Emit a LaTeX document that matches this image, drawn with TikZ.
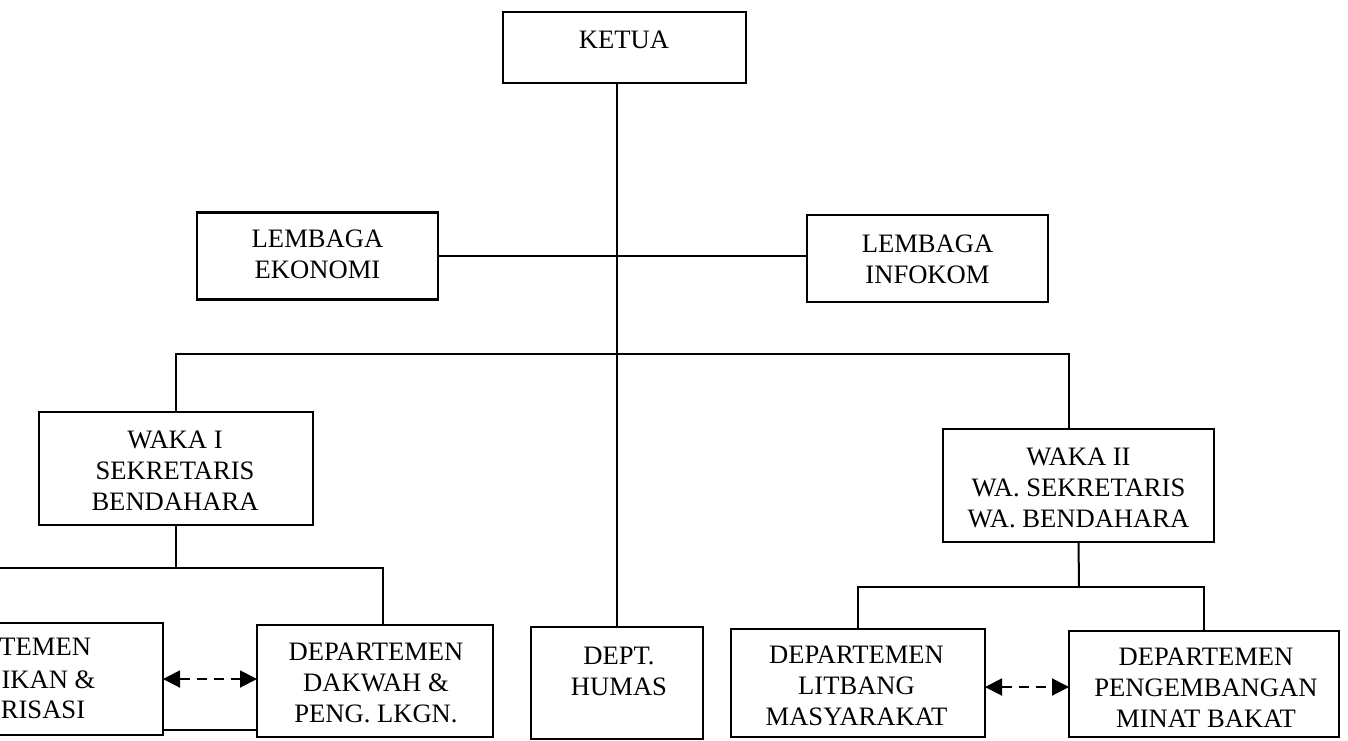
\documentclass[tikz,border=0pt]{standalone}
\usepackage{fontspec}
\setmainfont{Liberation Serif}
\usetikzlibrary{arrows.meta}
\begin{document}
\begin{tikzpicture}[x=0.5pt,y=-0.5pt,
  box/.style={draw, line width=1.1pt, inner sep=0pt, outer sep=0pt},
  lbl/.style={inner sep=0pt, align=center, font=\fontsize{13.3}{15.5}\selectfont},
  frag/.style={inner sep=0pt, anchor=west, font=\fontsize{13.3}{15.5}\selectfont},
  conn/.style={line width=1pt},
  darrow/.style={line width=1pt, dash pattern=on 5pt off 3.5pt,
     {Triangle[length=8.5pt,width=8.5pt]}-{Triangle[length=8.5pt,width=8.5pt]}}]
\useasboundingbox (0,0) rectangle (1348,740);
\clip (0,0) rectangle (1348,740);
% boxes
\node[box, minimum width=121.5pt, minimum height=35.5pt] (ketua) at (624.5,47.5) {};
\node[box, minimum width=120.5pt, minimum height=43.5pt] (ekonomi) at (317.5,256) {};
\node[box, minimum width=120.5pt, minimum height=43.5pt] (infokom) at (927.5,258.5) {};
\node[box, minimum width=137pt, minimum height=56.5pt] (waka1) at (176,468.5) {};
\node[box, minimum width=135.5pt, minimum height=56.5pt] (waka2) at (1078.5,485.5) {};
\node[box, minimum width=183pt, minimum height=56pt] (pend) at (-20,679) {};
\node[box, minimum width=118pt, minimum height=56pt] (dakwah) at (375,681) {};
\node[box, minimum width=86pt, minimum height=56pt] (humas) at (617,683) {};
\node[box, minimum width=127pt, minimum height=54pt] (litbang) at (858,683) {};
\node[box, minimum width=135pt, minimum height=53pt] (pengem) at (1204,684) {};
% texts
\node[lbl] (ketuaT) at (624,40) {KETUA};
\node[lbl] (ekonomiT) at (317.5,254) {LEMBAGA\\EKONOMI};
\node[lbl] (infokomT) at (927.5,259) {LEMBAGA\\INFOKOM};
\node[lbl] (waka1T) at (175,471) {WAKA I\\SEKRETARIS\\BENDAHARA};
\node[lbl] (waka2T) at (1078.5,488) {WAKA II\\WA. SEKRETARIS\\WA. BENDAHARA};
\node[frag] (pendT1) at (-1,647) {TEMEN};
\node[frag] (pendT2) at (1.2,680) {IKAN \&};
\node[frag] (pendT3) at (0.5,710) {RISASI};
\node[lbl] (dakwahT) at (376,682.5) {DEPARTEMEN\\DAKWAH \&\\PENG. LKGN.};
\node[lbl] (humasT) at (619,671) {DEPT.\\HUMAS};
\node[lbl] (litbangT) at (856.5,686) {DEPARTEMEN\\LITBANG\\MASYARAKAT};
\node[lbl] (pengemT) at (1206,688) {DEPARTEMEN\\PENGEMBANGAN\\MINAT BAKAT};
% connectors
\draw[conn] (ketua.south -| humas.north) -- (humas.north);
\draw[conn] (ekonomi.east) -- (ekonomi.east -| infokom.west);
\coordinate (busTop) at (176,354);
\draw[conn] (waka1.north) -- (busTop) -| ([xshift=-4.75pt]waka2.north);
\coordinate (busL) at (176,568);
\draw[conn] (waka1.south) -- (busL);
\draw[conn] (pend.north) |- (busL) -| ([xshift=4pt]dakwah.north);
\draw[conn] ([yshift=2.5pt]pend.south east) -- ([yshift=2.5pt]pend.south east -| dakwah.west);
\draw[darrow] (pend.east) -- (pend.east -| dakwah.west);
\coordinate (busR) at (1079,587);
\draw[conn] (waka2.south) -- (busR);
\draw[conn] (litbang.north) |- (busR) -| (pengem.north);
\draw[darrow] ([yshift=-2pt]litbang.east) -- ([yshift=-2pt]litbang.east -| pengem.west);
\end{tikzpicture}
\end{document}
